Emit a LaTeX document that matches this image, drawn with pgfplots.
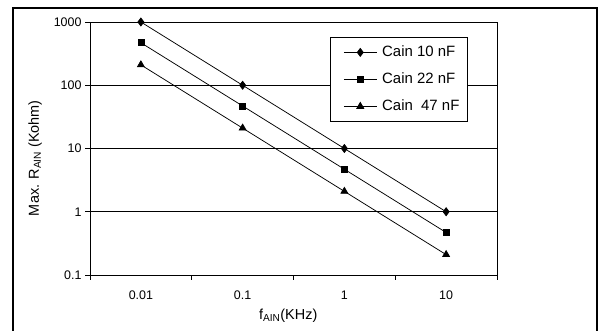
\documentclass[border=0pt]{standalone}
\usepackage{fontspec}
\setmainfont{Liberation Sans}
\usepackage{pgfplots}
\pgfplotsset{compat=1.18}
\begin{document}
\begin{tikzpicture}
\path[use as bounding box] (0,0) rectangle (599bp,331bp);
\fill[white] (0,0) rectangle (599bp,331bp);
\begin{axis}[
  at={(90bp,56bp)}, anchor=south west,
  scale only axis, width=407bp, height=253bp,
  ymode=log, ymin=0.1, ymax=1000,
  ytick={0.1,1,10,100,1000}, yticklabels={0.1,1,10,100,1000},
  yminorticks=false,
  xmin=-0.5, xmax=3.5,
  xtick={-0.5,0.5,1.5,2.5,3.5}, xticklabels={},
  extra x ticks={0,1,2,3}, extra x tick labels={0.01,0.1,1,10},
  extra x tick style={major tick length=0pt, xticklabel style={yshift=-12bp}},
  tick align=outside, tick pos=left, major tick length=5bp,
  tick style={black, line width=0.75bp},
  ymajorgrids, grid style={black, line width=0.75bp},
  axis line style={black, line width=0.75bp},
  /pgf/number format/assume math mode=true,
  ticklabel style={font=\fontsize{12.5}{14}\selectfont},
  xlabel={f\textsubscript{AIN}(KHz)},
  ylabel={Max. R\textsubscript{AIN} (Kohm)},
  label style={font=\fontsize{14.5}{16}\selectfont},
  xlabel style={at={(axis description cs:0.487,-0.162)}, anchor=center},
  ylabel style={at={(axis description cs:-0.135,0.462)}, anchor=center},
  legend cell align=left,
  legend style={at={(axis description cs:0.5897,0.9407)}, anchor=north west,
    draw=black, line width=0.8bp, inner xsep=8bp, inner ysep=8bp,
    row sep=13bp, column sep=5bp,
    font=\fontsize{15}{17}\selectfont,
    nodes={inner sep=0pt, text height=11bp, text depth=3bp}},
  legend image code/.code={\path (-5bp,0bp); \draw[mark repeat=2,mark phase=2,#1] plot coordinates {(0bp,0bp) (16.5bp,0bp) (33bp,0bp)};},
]
\addplot[black, line width=0.75bp, mark=diamond*, mark size=4bp, mark options={solid}] coordinates {(0,1000) (1,100) (2,10) (3,1)};
\addlegendentry{Cain 10 nF}
\addplot[black, line width=0.75bp, mark=square*, mark size=3bp] coordinates {(0,470) (1,47) (2,4.7) (3,0.47)};
\addlegendentry{Cain 22 nF}
\addplot[black, line width=0.75bp, mark=triangle*, mark size=4bp] coordinates {(0,210) (1,21) (2,2.1) (3,0.21)};
\addlegendentry{Cain\ \ 47 nF}
\end{axis}
\draw[black, line width=2bp] (13bp,-10bp) -- (13bp,323bp) -- (597bp,323bp) -- (597bp,-10bp);
\end{tikzpicture}
\end{document}
